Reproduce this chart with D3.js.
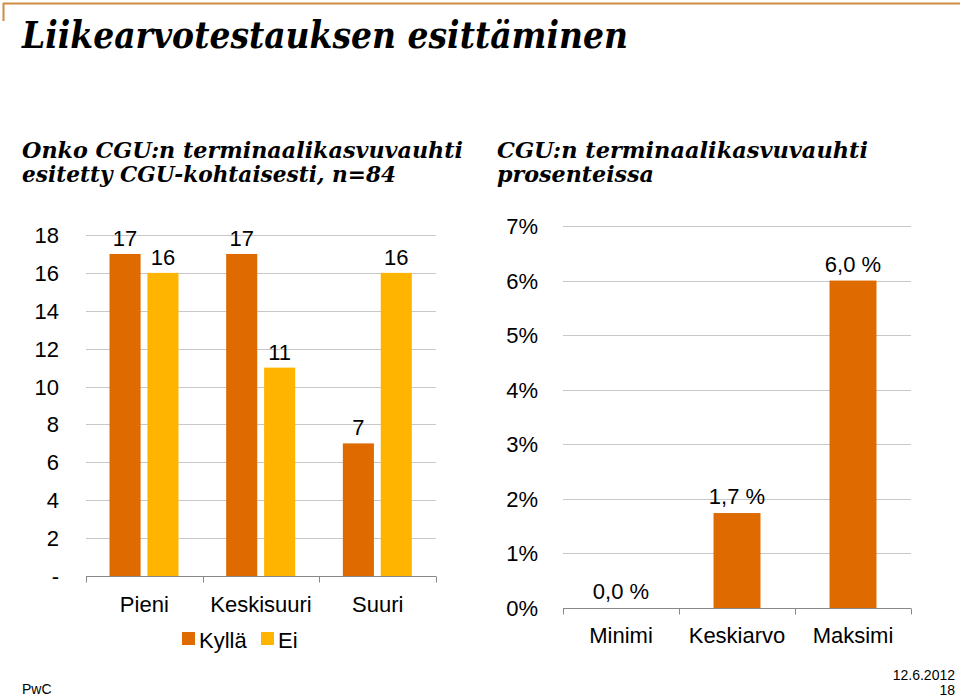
<!DOCTYPE html>
<html><head><meta charset="utf-8">
<script src="https://cdn.jsdelivr.net/npm/d3@7"></script>
<style>body{margin:0;background:#fff}svg{display:block}</style>
</head><body>
<svg id="c" width="960" height="697"></svg>
<script>
// ---- data ----
const leftCategories = ["Pieni", "Keskisuuri", "Suuri"];
const leftSeries = ["Kyllä", "Ei"];
const kyllaValues = [17, 17, 7];
const eiValues = [16, 11, 16];
const leftTicks = [0, 2, 4, 6, 8, 10, 12, 14, 16, 18];

const rightCategories = ["Minimi", "Keskiarvo", "Maksimi"];
const rightValues = [0.0, 1.74, 6.0];
const rightTicks = [0, 1, 2, 3, 4, 5, 6, 7];

const colors = {"Kyllä": "#DE6A00", "Ei": "#FFB500"};
const sans = "'Liberation Sans', Arial, sans-serif";
const serif = "'DejaVu Serif', Georgia, serif";
const FS = 22;

const svg = d3.select("#c");

// top frame lines
svg.append("line").attr("x1",3).attr("x2",960).attr("y1",3.5).attr("y2",3.5).attr("stroke","#CF8A45").attr("stroke-width",2);
svg.append("line").attr("x1",3.5).attr("x2",3.5).attr("y1",3).attr("y2",21).attr("stroke","#CF8A45").attr("stroke-width",2);

function fitText(sel, x, y, txt, size, width, weight, style, family) {
  return sel.append("text").attr("x",x).attr("y",y).text(txt)
    .attr("font-family",family).attr("font-size",size)
    .attr("font-weight",weight).attr("font-style",style)
    .attr("textLength",width).attr("lengthAdjust","spacingAndGlyphs").attr("fill","#000");
}
fitText(svg, 22, 48, "Liikearvotestauksen esittäminen", 38, 606, "bold", "italic", serif);
fitText(svg, 22, 158, "Onko CGU:n terminaalikasvuvauhti", 21.5, 441, "bold", "italic", serif);
fitText(svg, 22, 182, "esitetty CGU-kohtaisesti, n=84", 21.5, 374, "bold", "italic", serif);
fitText(svg, 497, 158, "CGU:n terminaalikasvuvauhti", 21.5, 371, "bold", "italic", serif);
fitText(svg, 497, 182, "prosenteissa", 21.5, 157, "bold", "italic", serif);

// ---- left chart ----
const L = {x0: 86, x1: 436, y0: 576, y1: 235};
const xL = d3.scaleBand().domain(leftCategories).range([L.x0, L.x1]).paddingInner(0).paddingOuter(0);
const yL = d3.scaleLinear().domain([0, 18]).range([L.y0, L.y1]);
const xSub = d3.scaleBand().domain(leftSeries).range([23.5, 92.5]).paddingInner(0.18);

const gL = svg.append("g");
gL.selectAll("line.grid").data(leftTicks.filter(d => d > 0)).enter().append("line")
  .attr("x1", L.x0).attr("x2", L.x1).attr("y1", d => Math.round(yL(d)) + 0.5).attr("y2", d => Math.round(yL(d)) + 0.5)
  .attr("stroke", "#C8C8C8").attr("stroke-width", 1);
gL.selectAll("text.yt").data(leftTicks).enter().append("text")
  .attr("x", 59).attr("y", d => yL(d) + 8).attr("text-anchor", "end")
  .attr("font-family", sans).attr("font-size", FS).attr("fill", "#000")
  .text(d => d === 0 ? "-" : d);

const leftData = leftCategories.map((c, i) => ({cat: c, vals: [{s: "Kyllä", v: kyllaValues[i]}, {s: "Ei", v: eiValues[i]}]}));
const groups = gL.selectAll("g.cat").data(leftData).enter().append("g")
  .attr("transform", d => `translate(${xL(d.cat)},0)`);
groups.selectAll("rect").data(d => d.vals).enter().append("rect")
  .attr("x", d => xSub(d.s)).attr("width", xSub.bandwidth())
  .attr("y", d => yL(d.v)).attr("height", d => yL(0) - yL(d.v))
  .attr("fill", d => colors[d.s]);
groups.selectAll("text").data(d => d.vals).enter().append("text")
  .attr("x", d => xSub(d.s) + xSub.bandwidth() / 2).attr("y", d => yL(d.v) - 8)
  .attr("text-anchor", "middle").attr("font-family", sans).attr("font-size", FS).attr("fill", "#000")
  .text(d => d.v);

const axL = gL.append("g").attr("transform", `translate(0,${L.y0 + 0.5})`);
axL.append("line").attr("x1", L.x0).attr("x2", L.x1).attr("stroke", "#888").attr("stroke-width", 1);
const tickPosL = leftCategories.map(c => xL(c)).concat([L.x1]);
axL.selectAll("line.t").data(tickPosL).enter().append("line")
  .attr("x1", d => Math.round(d) + 0.5).attr("x2", d => Math.round(d) + 0.5).attr("y1", 0).attr("y2", 6)
  .attr("stroke", "#888");
axL.selectAll("text").data(leftCategories).enter().append("text")
  .attr("x", d => xL(d) + xL.bandwidth() / 2).attr("y", 35).attr("text-anchor", "middle")
  .attr("font-family", sans).attr("font-size", FS).attr("fill", "#000").text(d => d);

// legend
const legend = svg.append("g");
const legItems = [{s: "Kyllä", x: 182}, {s: "Ei", x: 261}];
legend.selectAll("rect").data(legItems).enter().append("rect")
  .attr("x", d => d.x).attr("y", 632).attr("width", 13).attr("height", 13).attr("fill", d => colors[d.s]);
legend.selectAll("text").data(legItems).enter().append("text")
  .attr("x", d => d.x + 17).attr("y", 648).attr("font-family", sans).attr("font-size", FS).attr("fill", "#000")
  .text(d => d.s);

// ---- right chart ----
const R = {x0: 563, x1: 911, y0: 608, y1: 226};
const xR = d3.scaleBand().domain(rightCategories).range([R.x0, R.x1]).paddingInner(0.595).paddingOuter(0.2975);
const yR = d3.scaleLinear().domain([0, 7]).range([R.y0, R.y1]);
const gR = svg.append("g");
gR.selectAll("line.grid").data(rightTicks.filter(d => d > 0)).enter().append("line")
  .attr("x1", R.x0).attr("x2", R.x1).attr("y1", d => Math.round(yR(d)) + 0.5).attr("y2", d => Math.round(yR(d)) + 0.5)
  .attr("stroke", "#C8C8C8").attr("stroke-width", 1);
gR.selectAll("text.yt").data(rightTicks).enter().append("text")
  .attr("x", 538).attr("y", d => yR(d) + 8).attr("text-anchor", "end")
  .attr("font-family", sans).attr("font-size", FS).attr("fill", "#000")
  .text(d => d + "%");
const rightData = rightCategories.map((c, i) => ({cat: c, v: rightValues[i]}));
gR.selectAll("rect").data(rightData).enter().append("rect")
  .attr("x", d => xR(d.cat)).attr("width", xR.bandwidth())
  .attr("y", d => yR(d.v)).attr("height", d => yR(0) - yR(d.v)).attr("fill", colors["Kyllä"]);
const fmt = v => d3.format(".1f")(v).replace(".", ",") + " %";
gR.selectAll("text.lbl").data(rightData).enter().append("text")
  .attr("x", d => xR(d.cat) + xR.bandwidth() / 2).attr("y", d => yR(d.v) - 9)
  .attr("text-anchor", "middle").attr("font-family", sans).attr("font-size", FS).attr("fill", "#000")
  .text(d => fmt(d.v));
const axR = gR.append("g").attr("transform", `translate(0,${R.y0 + 0.5})`);
axR.append("line").attr("x1", R.x0).attr("x2", R.x1).attr("stroke", "#888");
const stepR = (R.x1 - R.x0) / 3;
const tickPosR = [0, 1, 2, 3].map(i => R.x0 + i * stepR);
axR.selectAll("line.t").data(tickPosR).enter().append("line")
  .attr("x1", d => Math.round(d) + 0.5).attr("x2", d => Math.round(d) + 0.5).attr("y1", 0).attr("y2", 6).attr("stroke", "#888");
axR.selectAll("text").data(rightCategories).enter().append("text")
  .attr("x", d => xR(d) + xR.bandwidth() / 2).attr("y", 34).attr("text-anchor", "middle")
  .attr("font-family", sans).attr("font-size", FS).attr("fill", "#000").text(d => d);

// footer
svg.append("text").attr("x", 22).attr("y", 694).attr("font-family", sans).attr("font-size", 14).text("PwC");
svg.append("text").attr("x", 955).attr("y", 680).attr("text-anchor", "end").attr("font-family", sans).attr("font-size", 14).text("12.6.2012");
svg.append("text").attr("x", 955).attr("y", 695).attr("text-anchor", "end").attr("font-family", sans).attr("font-size", 14).text("18");
</script>
</body></html>
